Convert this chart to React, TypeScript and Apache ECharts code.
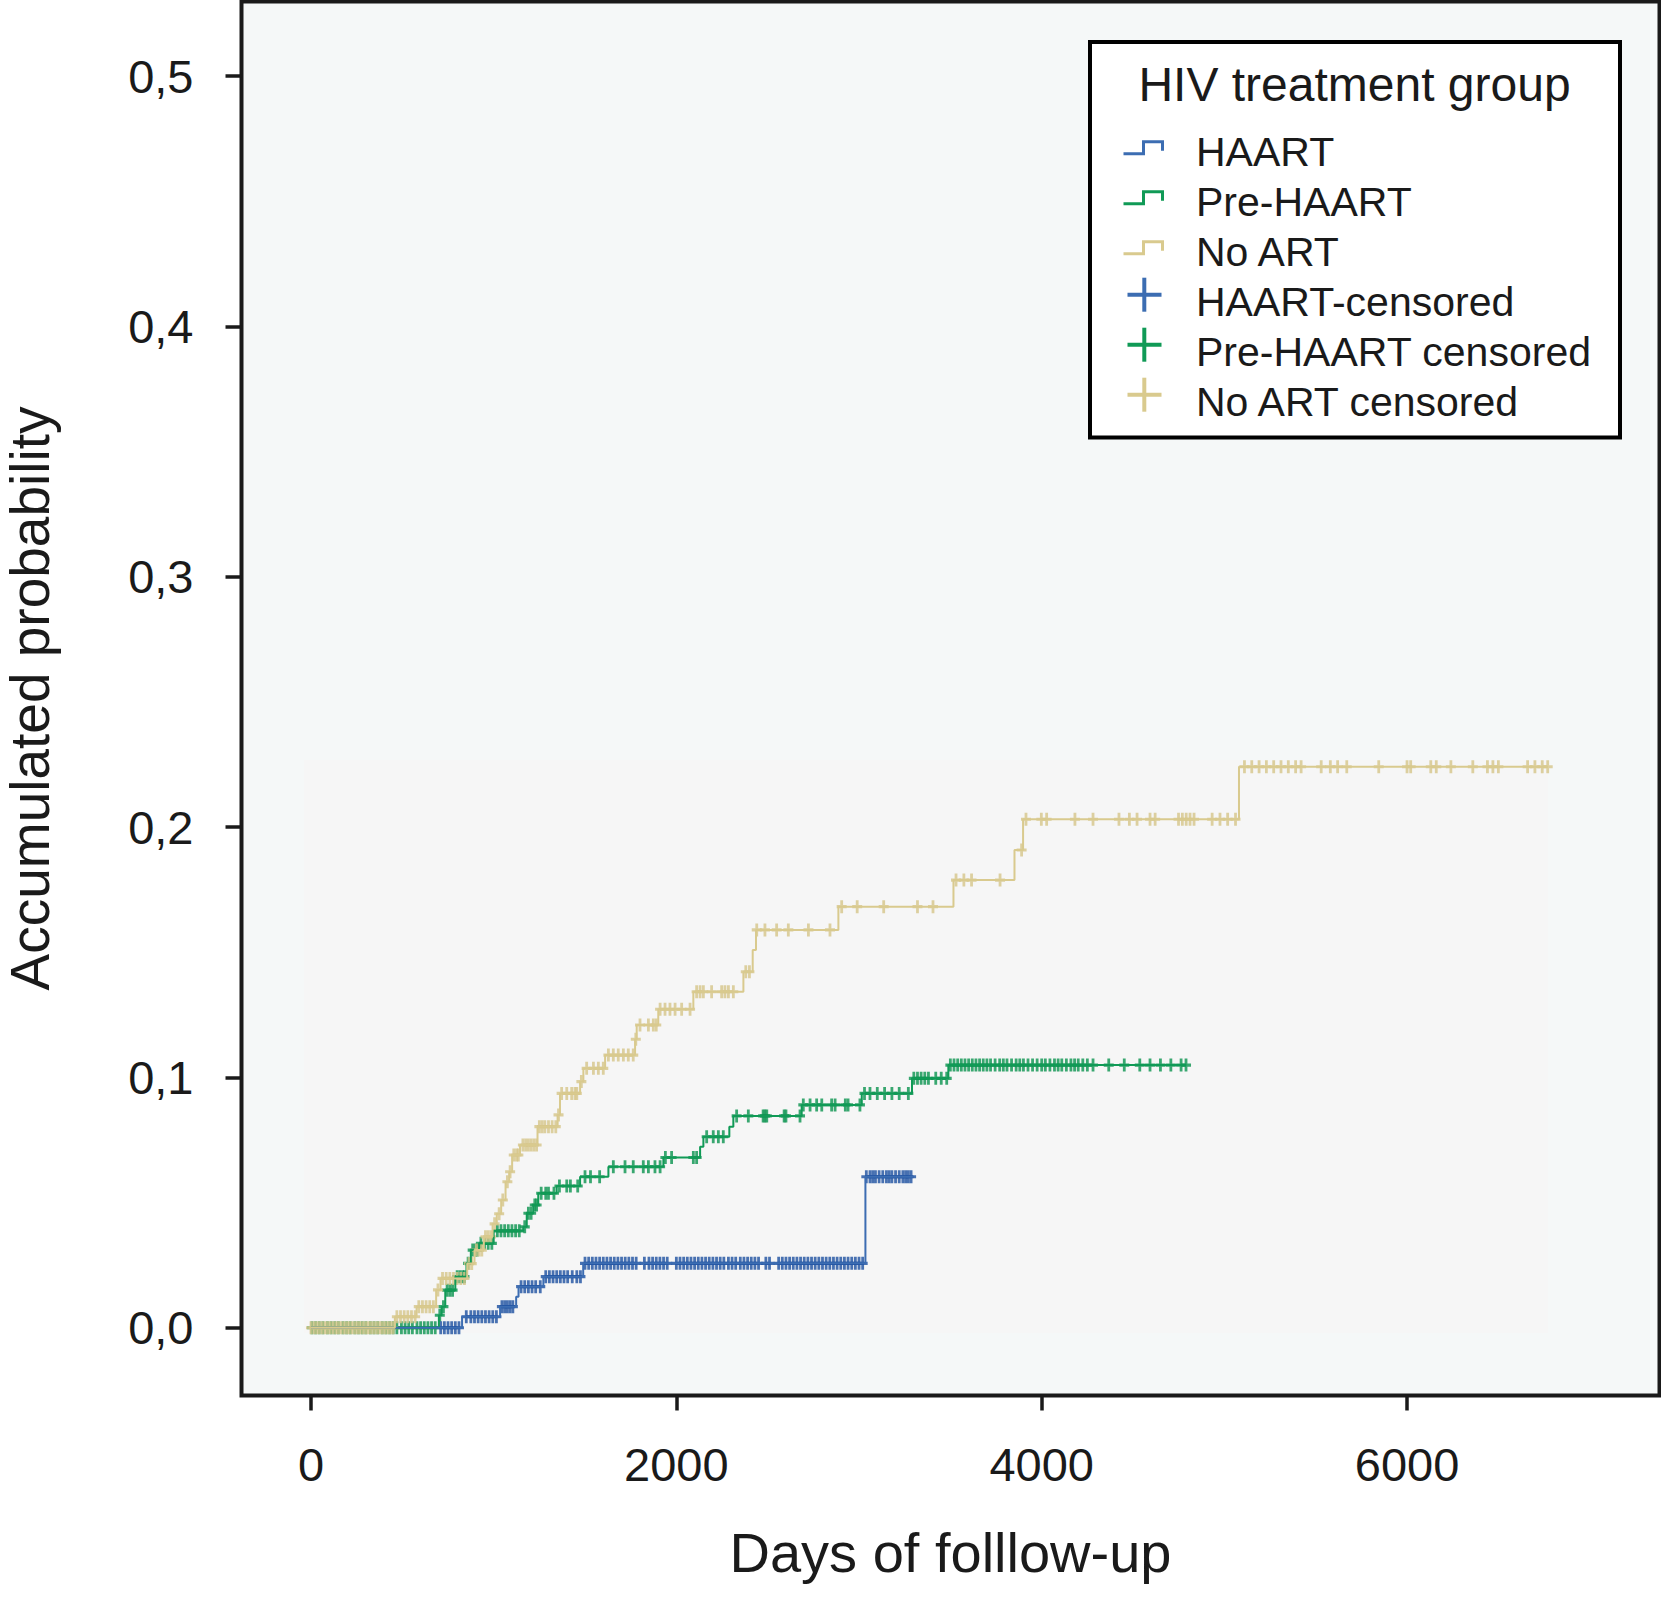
import React, { useEffect, useRef } from 'react';
import * as echarts from 'echarts';

const FONT = '"Liberation Sans", Arial, Helvetica, sans-serif';

const xTicks = [0, 2000, 4000, 6000];
const yTicks = [0, 0.1, 0.2, 0.3, 0.4, 0.5];

const legendTitle = 'HIV treatment group';
const groupNames = ['HAART', 'Pre-HAART', 'No ART'];
const censorNames = ['HAART-censored', 'Pre-HAART censored', 'No ART censored'];
const lineColors = ['#3c6db2', '#109a56', '#d9ca8e'];
const markColors = ['#1d50a0', '#0a944f', '#d6c589'];

// Step curves: [day, cumulative probability from that day on]
const haartSteps = [
  [0, 0], [827, 0.0044], [1035, 0.0084], [1123, 0.0124], [1136, 0.0164],
  [1272, 0.0204], [1490, 0.0257], [3035, 0.0603],
];
const haartEnd = 3296;

const preSteps = [
  [0, 0], [700, 0.005], [715, 0.0084], [735, 0.015], [790, 0.0204], [851, 0.0257],
  [875, 0.031], [920, 0.0337], [1000, 0.0387], [1162, 0.0403], [1181, 0.0457],
  [1217, 0.049], [1244, 0.0537], [1345, 0.0566], [1473, 0.0603], [1628, 0.0643],
  [1929, 0.068], [2130, 0.0723], [2148, 0.0763], [2290, 0.0803], [2312, 0.0846],
  [2686, 0.089], [3015, 0.0936], [3290, 0.0996], [3489, 0.1049],
];
const preEnd = 4792;

const noArtSteps = [
  [0, 0], [459, 0.0044], [578, 0.0084], [685, 0.0151], [709, 0.0197], [855, 0.0256],
  [895, 0.031], [946, 0.0363], [994, 0.0415], [1017, 0.0455], [1041, 0.051],
  [1065, 0.0583], [1085, 0.0623], [1101, 0.069], [1144, 0.073], [1240, 0.0803],
  [1350, 0.085], [1363, 0.0936], [1473, 0.0983], [1491, 0.1036], [1610, 0.1089],
  [1774, 0.1152], [1783, 0.1209], [1901, 0.1272], [2093, 0.1342], [2367, 0.1422],
  [2418, 0.1509], [2436, 0.1589], [2887, 0.1682], [3517, 0.1788], [3851, 0.1908],
  [3898, 0.2031], [5080, 0.2241],
];
const noArtEnd = 6772;

// Censoring times (days)
const haartCensored = [
  710, 730, 750, 770, 790, 810, 850, 875, 895, 915, 935, 955, 975, 995, 1015,
  1045, 1060, 1075, 1090, 1105, 1150, 1170, 1190, 1210, 1230, 1255,
  1285, 1305, 1325, 1345, 1365, 1385, 1405, 1430, 1455, 1475,
  1500, 1520, 1540, 1560, 1580, 1600, 1620, 1640, 1660, 1680, 1700, 1720, 1740, 1760, 1780,
  1825, 1850, 1870, 1890, 1910, 1930, 1950, 2000, 2020, 2040, 2060, 2080, 2100, 2120,
  2140, 2160, 2180, 2200, 2220, 2240, 2260, 2285, 2305, 2325, 2350, 2370, 2390, 2410,
  2430, 2450, 2490, 2510, 2560, 2580, 2600, 2620, 2640, 2660, 2680, 2700, 2720, 2740,
  2760, 2780, 2800, 2820, 2840, 2860, 2880, 2900, 2920, 2940, 2960, 2980, 3000, 3020,
  3040, 3060, 3075, 3090, 3110, 3130, 3150, 3165, 3180, 3200, 3220, 3240, 3255, 3270, 3285,
];

const preCensored = [
  5, 25, 45, 65, 90, 110, 130, 150, 175, 195, 215, 240, 260, 280, 300, 325, 345, 365,
  390, 410, 430, 450, 470, 495, 515, 535, 555, 580, 600, 620, 640, 660, 680,
  705, 725, 745, 760, 775, 800, 815, 830, 840, 860, 885, 900, 910, 930, 950, 970, 990,
  1020, 1040, 1060, 1080, 1100, 1120, 1140, 1170, 1190, 1205, 1225, 1235,
  1260, 1285, 1300, 1330, 1360, 1400, 1420, 1460, 1500, 1530, 1580,
  1655, 1719, 1764, 1819, 1847, 1883, 1911, 1940, 1974, 2093, 2111,
  2166, 2202, 2230, 2257, 2330, 2394, 2475, 2485, 2495, 2590, 2600, 2677,
  2695, 2732, 2768, 2796, 2850, 2869, 2925, 2940, 3005,
  3030, 3060, 3100, 3140, 3180, 3220, 3270, 3300, 3320, 3340, 3360, 3380, 3420, 3450, 3480,
  3500, 3520, 3540, 3560, 3580, 3600, 3620, 3640, 3660, 3680, 3700, 3720, 3745, 3770,
  3790, 3810, 3835, 3860, 3880, 3900, 3925, 3950, 3975, 4000, 4020, 4045, 4070, 4090,
  4110, 4135, 4160, 4180, 4200, 4225, 4250, 4281, 4367, 4452, 4537, 4593, 4650, 4707,
  4763, 4790,
];

const noArtCensored = [
  0, 15, 30, 45, 60, 75, 90, 105, 120, 135, 150, 165, 180, 195, 210, 225, 240, 255, 270,
  285, 300, 315, 330, 345, 360, 375, 390, 405, 420, 435, 450,
  470, 490, 510, 530, 550, 570, 590, 610, 630, 650, 670, 695,
  720, 740, 760, 780, 800, 820, 840, 865, 880, 905, 920, 935, 955, 970, 985, 1005, 1030,
  1050, 1075, 1090, 1110, 1125, 1135, 1160, 1175, 1190, 1205, 1220, 1235,
  1250, 1265, 1280, 1300, 1320, 1340, 1355, 1372, 1400, 1427, 1445, 1455, 1480,
  1509, 1546, 1573, 1600, 1628, 1655, 1682, 1710, 1737, 1764, 1778,
  1801, 1847, 1874, 1890, 1911, 1938, 1965, 1993, 2029, 2075,
  2111, 2130, 2148, 2193, 2248, 2266, 2285, 2312, 2380, 2400,
  2440, 2485, 2549, 2613, 2723, 2841, 2905, 2990, 3135, 3320, 3405,
  3531, 3574, 3616, 3772, 3890,
  3914, 3998, 4027, 4182, 4281, 4423, 4480, 4522, 4593, 4621, 4749, 4770, 4791, 4812,
  4834, 4933, 4976, 5018, 5061,
  5110, 5150, 5190, 5230, 5270, 5310, 5350, 5390, 5420, 5530, 5580, 5620, 5670, 5845,
  6000, 6020, 6130, 6160, 6240, 6360, 6440, 6470, 6500, 6660, 6700, 6740, 6770,
];

const valueAt = (steps: number[][], t: number) => {
  let v = 0;
  for (const s of steps) if (s[0] <= t) v = s[1];
  return v;
};

const curveData = (steps: number[][], end: number) => [...steps, [end, steps[steps.length - 1][1]]];
const censorData = (steps: number[][], days: number[]) => days.map((d) => [d, valueAt(steps, d)]);

const PLUS = 'path://M3.6 0H6.4V3.8H10V6.2H6.4V10H3.6V6.2H0V3.8H3.6Z';

export default function App() {
  const ref = useRef<HTMLDivElement>(null);
  useEffect(() => {
    if (!ref.current) return;
    const chart = echarts.init(ref.current, undefined, { renderer: 'svg' });

    const groups = [
      { steps: preSteps, end: preEnd, cens: preCensored, i: 1 },
      { steps: haartSteps, end: haartEnd, cens: haartCensored, i: 0 },
      { steps: noArtSteps, end: noArtEnd, cens: noArtCensored, i: 2 },
    ];
    const series: any[] = [];
    groups.forEach((g, k) => {
      series.push({
        type: 'line',
        name: groupNames[g.i],
        data: curveData(g.steps, g.end),
        step: 'end',
        showSymbol: false,
        lineStyle: { color: lineColors[g.i], width: 2 },
        silent: true,
        markArea: k === 0 ? {
          silent: true,
          itemStyle: { color: '#f6f6f6' },
          data: [[{ xAxis: -38, yAxis: -0.0021 }, { xAxis: 6772, yAxis: 0.2268 }]],
        } : undefined,
      });
      series.push({
        type: 'scatter',
        name: censorNames[g.i],
        data: censorData(g.steps, g.cens),
        symbol: PLUS,
        symbolSize: [10, 13],
        itemStyle: { color: markColors[g.i] },
        silent: true,
      });
    });

    // legend drawn as graphics
    const legendEls: any[] = [
      {
        type: 'rect',
        shape: { x: 1090, y: 42, width: 530, height: 395.5 },
        style: { fill: '#ffffff', stroke: '#000000', lineWidth: 4 },
        z: 100,
      },
      {
        type: 'text',
        x: 1354.5,
        y: 84.5,
        style: { text: legendTitle, fontSize: 48, fontFamily: FONT, fill: '#1a1a1a', align: 'center', verticalAlign: 'middle' },
        z: 101,
      },
    ];
    const allNames = [...groupNames, ...censorNames];
    allNames.forEach((nm, r) => {
      const c = 151.7 + 50 * r;
      legendEls.push({
        type: 'text',
        x: 1196,
        y: c,
        style: { text: nm, fontSize: 41, fontFamily: FONT, fill: '#1a1a1a', align: 'left', verticalAlign: 'middle' },
        z: 101,
      });
      const col = lineColors[r % 3];
      if (r < 3) {
        legendEls.push({
          type: 'polyline',
          shape: { points: [[1123.5, c + 2], [1143.5, c + 2], [1143.5, c - 10], [1162.5, c - 10], [1162.5, c - 1]] },
          style: { stroke: col, lineWidth: 3, fill: null },
          z: 101,
        });
      } else {
        const cy = c - 7;
        legendEls.push({
          type: 'line',
          shape: { x1: 1144.3, y1: cy - 17, x2: 1144.3, y2: cy + 17 },
          style: { stroke: col, lineWidth: 4 },
          z: 101,
        });
        legendEls.push({
          type: 'line',
          shape: { x1: 1127.5, y1: cy, x2: 1161.5, y2: cy },
          style: { stroke: col, lineWidth: 4 },
          z: 101,
        });
      }
    });

    chart.setOption({
      animation: false,
      backgroundColor: '#ffffff',
      grid: {
        left: 241.5,
        top: 1.5,
        right: 1.5,
        bottom: 202.5,
        show: true,
        backgroundColor: '#f5f8f8',
        borderColor: '#1a1a1a',
        borderWidth: 4,
        containLabel: false,
        outerBoundsMode: 'none',
      },
      xAxis: {
        type: 'value',
        min: -380.5,
        max: 7382,
        splitLine: { show: false },
        axisLine: { show: false, onZero: false },
        axisTick: {
          show: true,
          customValues: xTicks,
          length: 15,
          lineStyle: { color: '#1a1a1a', width: 3.5 },
        },
        axisLabel: {
          customValues: xTicks,
          fontSize: 47,
          fontFamily: FONT,
          color: '#1a1a1a',
          margin: 45,
          formatter: (v: number) => String(v),
        },
        name: 'Days of folllow-up',
        nameLocation: 'middle',
        nameGap: 129,
        nameTextStyle: { fontSize: 56, fontFamily: FONT, color: '#1a1a1a' },
      },
      yAxis: {
        type: 'value',
        min: -0.02708,
        max: 0.52976,
        splitLine: { show: false },
        axisLine: { show: false, onZero: false },
        axisTick: {
          show: true,
          customValues: yTicks,
          length: 16,
          lineStyle: { color: '#1a1a1a', width: 3.5 },
        },
        axisLabel: {
          customValues: yTicks,
          fontSize: 47,
          fontFamily: FONT,
          color: '#1a1a1a',
          margin: 48,
          padding: [0, 0, 14, 0],
          formatter: (v: number) => v.toFixed(1).replace('.', ','),
        },
        name: 'Accumulated probability',
        nameLocation: 'middle',
        nameGap: 184,
        nameTextStyle: { fontSize: 55, fontFamily: FONT, color: '#1a1a1a' },
      },
      series,
      graphic: legendEls,
    });

    return () => chart.dispose();
  }, []);

  return (
    <div
      ref={ref}
      style={{ position: 'absolute', left: 0, top: 0, width: 1661, height: 1598, background: '#ffffff' }}
    />
  );
}
